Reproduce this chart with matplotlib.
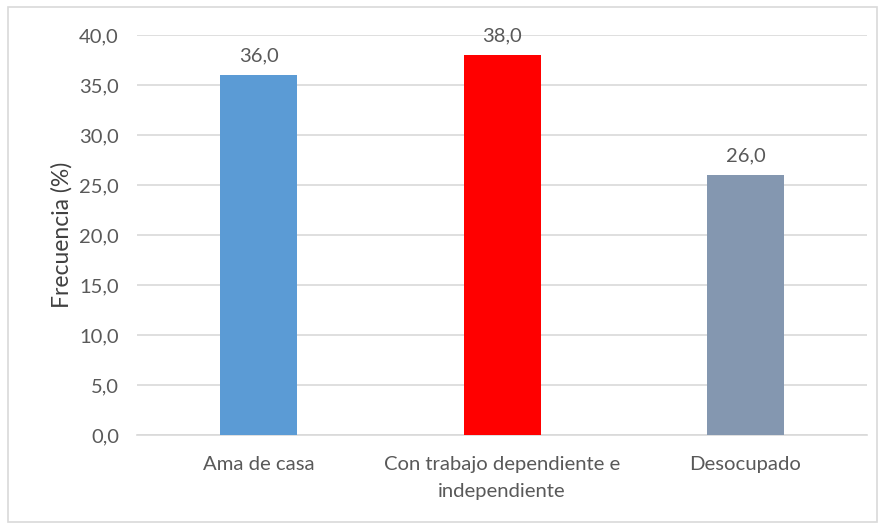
import matplotlib
matplotlib.use("Agg")
import matplotlib.pyplot as plt
import matplotlib.patches as mpatches

categories = ["Ama de casa", "Con trabajo dependiente e\nindependiente", "Desocupado"]
values = [36.0, 38.0, 26.0]
colors = ["#5B9BD5", "#FF0000", "#8497B0"]
yticks = [0, 5, 10, 15, 20, 25, 30, 35, 40]

plt.rcParams["font.family"] = ["Lato", "DejaVu Sans"]
text_color = "#595959"

fig = plt.figure(figsize=(8.84, 5.27), dpi=100)
ax = fig.add_axes([0.155, 0.1746, 0.826, 0.759])

# outer chart border
fig.patches.append(mpatches.Rectangle((8 / 884, 5 / 527), 869 / 884, 515 / 527,
                                      transform=fig.transFigure, fill=False,
                                      edgecolor="#D9D9D9", linewidth=1.2))

x = range(len(categories))
ax.bar(x, values, width=0.316, color=colors, zorder=3)

for i, v in enumerate(values):
    ax.text(i, v + 1.1, f"{v:.1f}".replace(".", ","), ha="center", va="bottom",
            fontsize=14.5, color=text_color)

ax.set_xlim(-0.5, 2.5)
ax.set_ylim(0, 40)
ax.set_yticks(yticks)
ax.set_yticklabels([f"{t:.1f}".replace(".", ",") for t in yticks], fontsize=14.5, color=text_color)
ax.set_xticks(list(x))
ax.set_xticklabels(categories, fontsize=14.6, color=text_color, linespacing=1.75)
ax.tick_params(axis="x", length=0, pad=15)
ax.tick_params(axis="y", length=0, pad=13)
ax.yaxis.grid(True, color="#D9D9D9", linewidth=1.2, zorder=0)
ax.set_axisbelow(True)
for s in ["top", "right", "left"]:
    ax.spines[s].set_visible(False)
ax.spines["bottom"].set_color("#D9D9D9")
ax.spines["bottom"].set_linewidth(1.2)

ax.set_ylabel("Frecuencia (%)", fontsize=16.5, color="#404040", labelpad=5)

fig.savefig("out.png", dpi=100)
